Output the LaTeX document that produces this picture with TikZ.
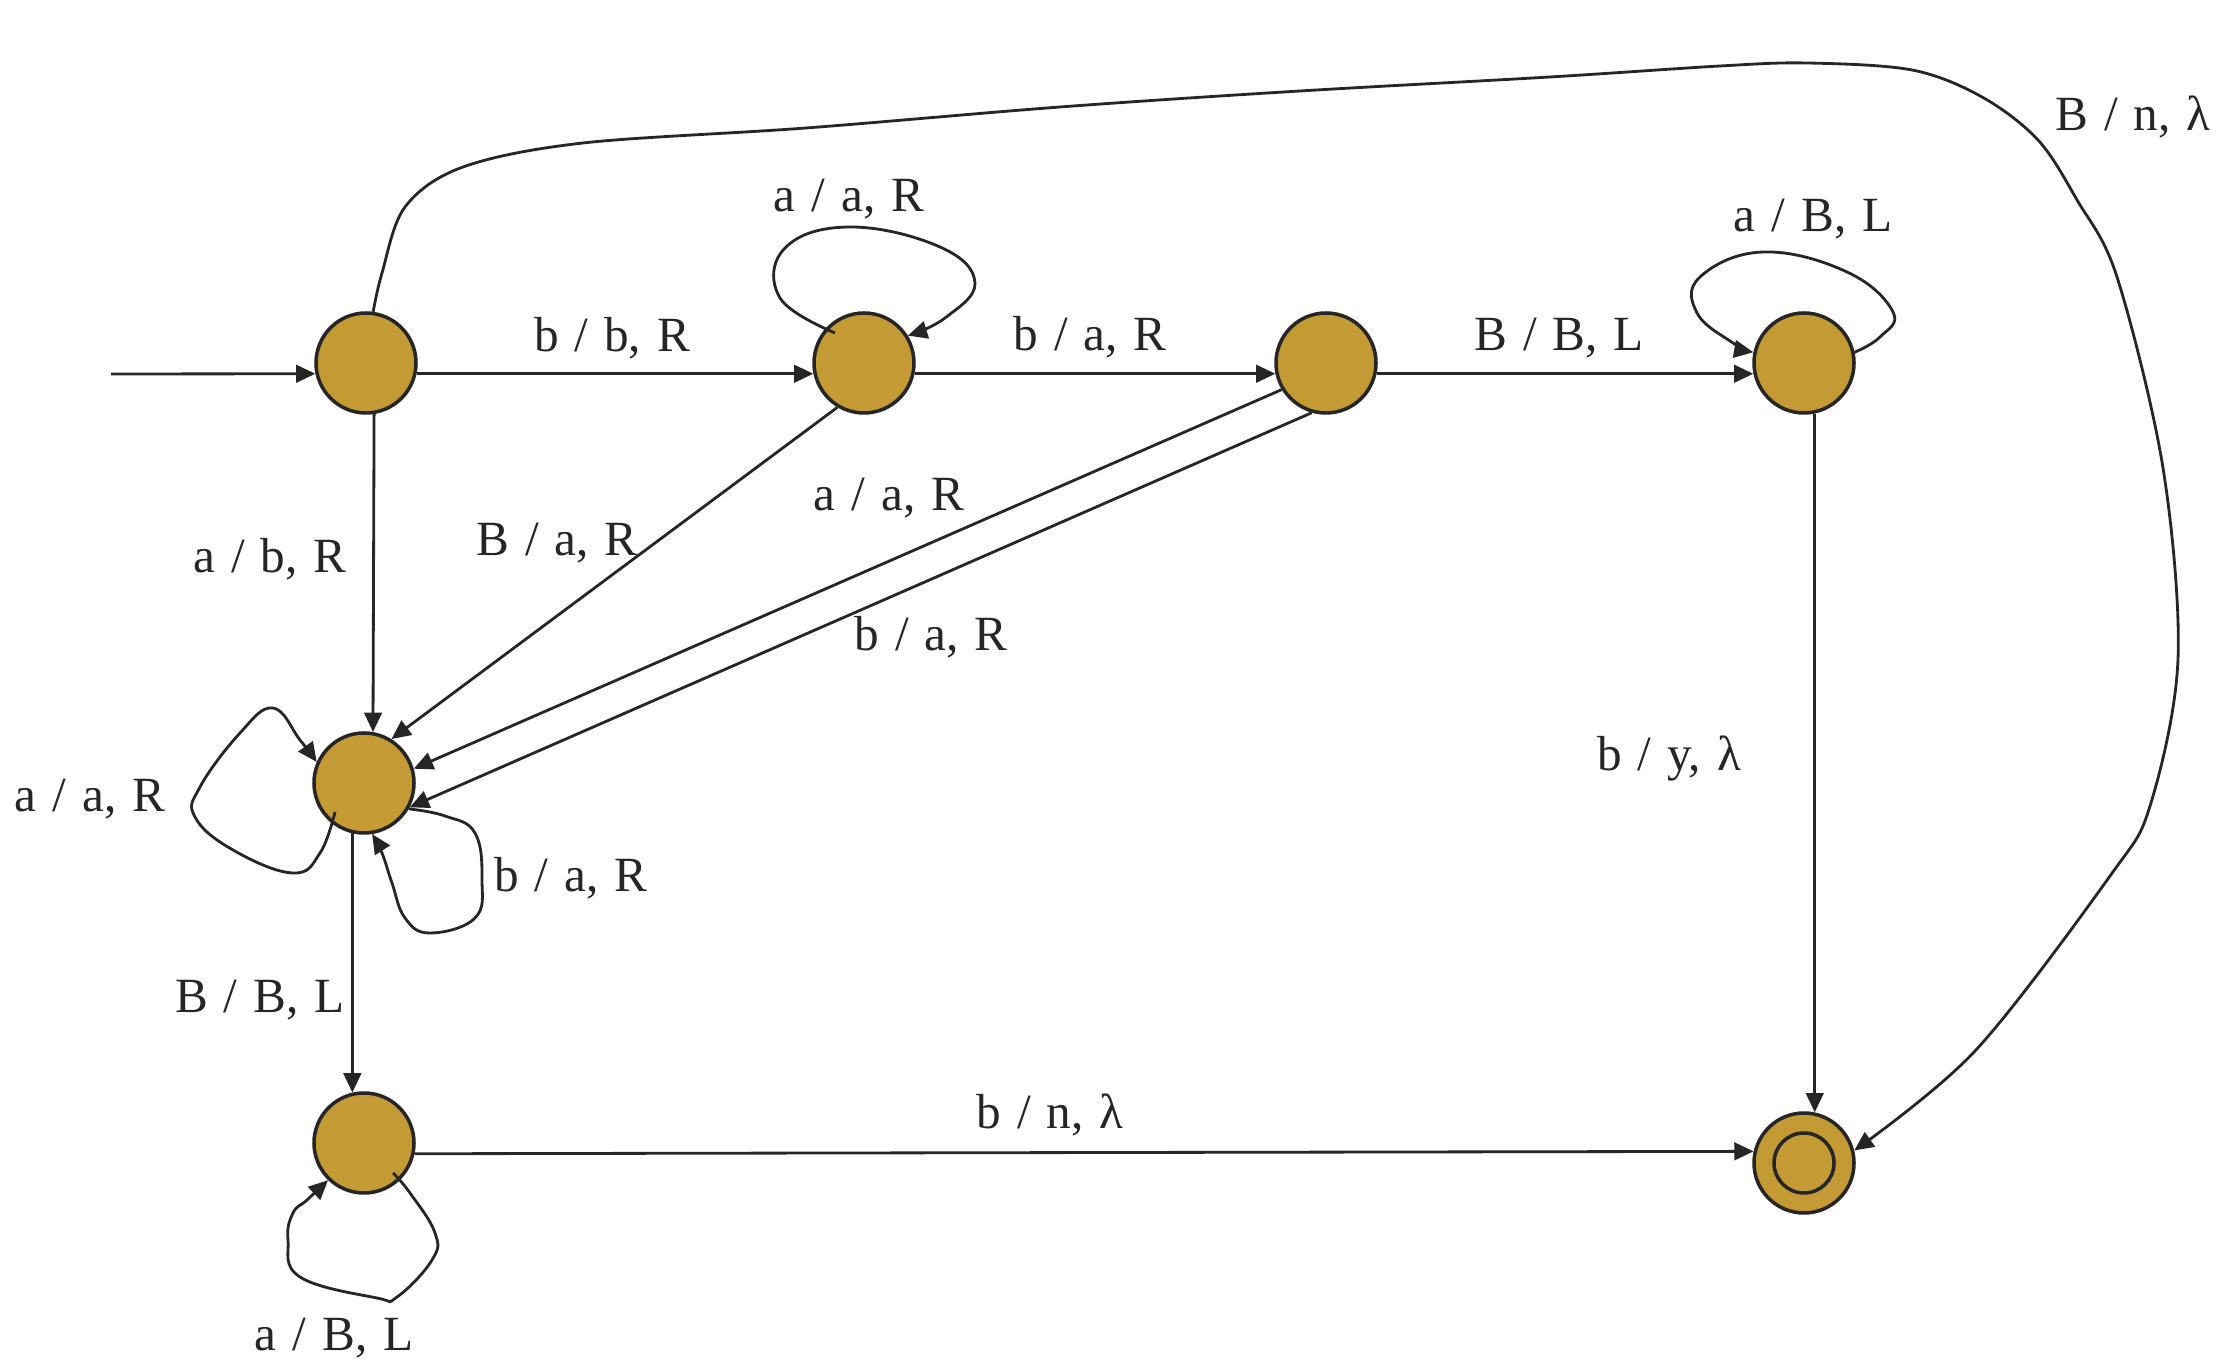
\documentclass[tikz,border=0pt]{standalone}
\usepackage{fontspec}
\setmainfont{Liberation Serif}[WordSpace=1.3]
\usetikzlibrary{arrows.meta}
\definecolor{state_gold}{RGB}{195,154,52}
\definecolor{line_gray}{RGB}{38,38,38}

\begin{document}
\begin{tikzpicture}[
    tmstate/.style={circle,draw=line_gray,line width=1pt,fill=state_gold,minimum size=1cm,inner sep=0pt},
    finalstate/.style={path picture={\draw[line_gray,line width=1pt] (path picture bounding box.center) circle (0.3);}},
    trans/.style={draw=line_gray,line width=0.8pt,-{Triangle[length=5.5pt,width=5pt]}},
    lbl/.style={anchor=base,inner sep=0pt,text=line_gray,font=\fontsize{14}{16}\selectfont}]
        \useasboundingbox (0,0) rectangle (22.4,13.68);
        % states
        \node[tmstate] (q0) at (3.66,10.05) {};
        \node[tmstate] (q1) at (8.64,10.05) {};
        \node[tmstate] (q2) at (13.26,10.05) {};
        \node[tmstate] (q3) at (18.04,10.05) {};
        \node[tmstate] (q4) at (3.64,5.85) {};
        \node[tmstate] (q5) at (3.64,2.25) {};
        \node[tmstate,finalstate] (q6) at (18.04,2.05) {};
        \coordinate (start) at (1.11,9.94);
        \coordinate (q1in) at ([shift={(-0.29,0.30)}]q1.center);
        \coordinate (q4in) at ([shift={(-0.29,-0.29)}]q4.center);
        \coordinate (q5in) at ([shift={(0.29,-0.30)}]q5.center);
        % transitions
        \draw[trans] (start) -- (q0.192);
        \draw[trans] (q0.348) -- (q1.192);
        \draw[trans] (q1.348) -- (q2.192);
        \draw[trans] (q2.348) -- (q3.192);
        \draw[trans] (q0.279) -- (q4.80);
        \draw[trans] (q1.239) -- (q4.58);
        \draw[trans] (q2.211) -- (q4.16);
        \draw[trans] (q2.254) -- (q4.332);
        \draw[trans] (q4.257) -- (q5.103);
        \draw[trans] (q5.348) -- (q6.167);
        \draw[trans] (q3.282) -- (q6.78);
        % loops
        \draw[trans] plot[smooth,tension=0.7] coordinates {(q1in) (7.80,10.70) (7.85,11.20) (8.50,11.41)
          (9.40,11.21) (9.75,10.85) (9.45,10.50) (q1.32)};
        \draw[trans] plot[smooth,tension=0.7] coordinates {(q3.12) (18.80,10.31) (18.93,10.56) (18.47,10.96)
          (17.63,11.16) (17.00,10.91) (16.97,10.55) (17.33,10.25) (q3.168)};
        \draw[trans] plot[smooth,tension=0.7] coordinates {(q4in) (3.20,5.15) (2.93,4.95) (2.33,5.18)
          (1.95,5.51) (2.00,5.81) (2.40,6.35) (2.73,6.60) (3.00,6.28) (q4.156)};
        \draw[trans] plot[smooth,tension=0.7] coordinates {(q4.330) (4.45,5.52) (4.75,5.35) (4.82,4.88)
          (4.75,4.50) (4.30,4.35) (4.05,4.50) (3.92,4.85) (3.82,5.15) (q4.279)};
        \draw[trans] plot[smooth,tension=0.7] coordinates {(q5in) (4.10,1.75) (4.35,1.35) (4.32,1.08)
          (3.97,0.71) (3.77,0.70) (3.00,0.91) (2.88,1.28) (2.93,1.55) (3.07,1.68) (q5.226)};
        % long way round to the halting state
        \draw[trans] plot[smooth,tension=0.55] coordinates {(q0.82) (3.82,10.95) (4.05,11.61) (4.63,12.01)
          (5.83,12.25) (8.06,12.40) (10.60,12.61) (13.00,12.77) (15.50,12.91) (17.20,13.02) (18.07,13.05)
          (19.12,12.98) (19.82,12.71) (20.38,12.28) (20.77,11.68) (21.17,10.91) (21.63,9.00) (21.78,7.09)
          (21.50,5.62) (21.10,4.92) (19.75,3.17) (q6.14)};
        % labels
        \node[lbl] (l01) at (6.12,10.16) {b / b, R};
        \node[lbl] (l11) at (8.49,11.56) {a / a, R};
        \node[lbl] (l12) at (10.90,10.17) {b / a, R};
        \node[lbl] (l23) at (15.59,10.17) {B / B, L};
        \node[lbl] (l33) at (18.13,11.36) {a / B, L};
        \node[lbl] (l06) at (21.33,12.37) {B / n, λ};
        \node[lbl] (l04) at (2.70,7.95) {a / b, R};
        \node[lbl] (l14) at (5.57,8.12) {B / a, R};
        \node[lbl] (l24a) at (8.89,8.57) {a / a, R};
        \node[lbl] (l24b) at (9.31,7.17) {b / a, R};
        \node[lbl] (l44b) at (5.71,4.76) {b / a, R};
        \node[lbl] (l44a) at (0.90,5.56) {a / a, R};
        \node[lbl] (l45) at (2.60,3.55) {B / B, L};
        \node[lbl] (l55) at (3.34,0.18) {a / B, L};
        \node[lbl] (l56) at (10.50,2.39) {b / n, λ};
        \node[lbl] (l36) at (16.69,5.97) {b / y, λ};
\end{tikzpicture}
\end{document}
